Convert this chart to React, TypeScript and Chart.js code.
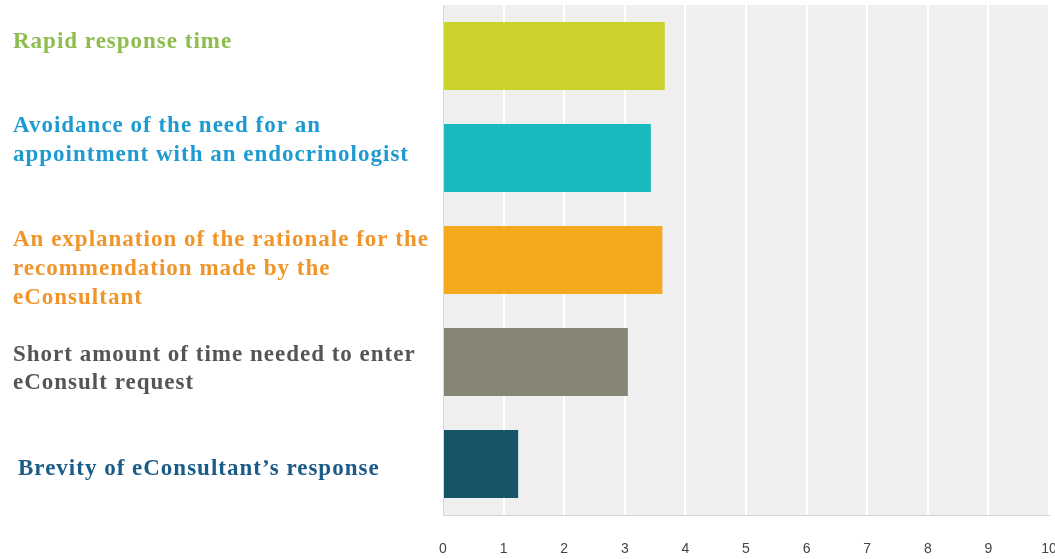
import React, { useEffect, useRef } from "react";
import { Chart, registerables } from "chart.js";

Chart.register(...registerables);

const categories: string[][] = [
  ["Rapid response time"],
  ["Avoidance of the need for an", "appointment with an endocrinologist"],
  ["An explanation of the rationale for the", "recommendation made by the", "eConsultant"],
  ["Short amount of time needed to enter", "eConsult request"],
  ["Brevity of eConsultant\u2019s response"],
];
const values: number[] = [3.66, 3.43, 3.62, 3.05, 1.24];
const barColors: string[] = ["#cbd22e", "#1ab9bd", "#f4aa1e", "#878575", "#165466"];
const labelColors: string[] = ["#8dbd4e", "#1d9bd0", "#f0952a", "#555555", "#1b5b87"];
const xTicks: number[] = [0, 1, 2, 3, 4, 5, 6, 7, 8, 9, 10];

// style: vertical offset of each label block relative to bar centre, and left x
const labelOffsets = [-13.5, -17.5, 9, 7, 5.5];
const labelX = [13, 13, 13, 13, 18];

const bgPlugin = {
  id: "bg",
  beforeDraw(chart: any) {
    const { ctx, chartArea } = chart;
    ctx.save();
    ctx.fillStyle = "#efefef";
    ctx.fillRect(chartArea.left, chartArea.top, chartArea.right - chartArea.left, chartArea.bottom - chartArea.top);
    ctx.restore();
  },
};

const labelPlugin = {
  id: "leftLabels",
  afterDraw(chart: any) {
    const { ctx } = chart;
    const y = chart.scales.y;
    ctx.save();
    ctx.font = "bold 23px 'Liberation Serif', serif";
    try {
      (ctx as any).letterSpacing = "1px";
    } catch (e) {}
    ctx.textAlign = "left";
    ctx.textBaseline = "middle";
    const lh = 28.8;
    categories.forEach((lines, i) => {
      const c = y.getPixelForValue(i) + labelOffsets[i];
      const start = c - ((lines.length - 1) * lh) / 2;
      ctx.fillStyle = labelColors[i];
      lines.forEach((ln, j) => {
        ctx.fillText(ln, labelX[i], start + j * lh);
      });
    });
    ctx.restore();
  },
};

export default function App() {
  const ref = useRef<HTMLCanvasElement>(null);
  useEffect(() => {
    if (!ref.current) return;
    const chart = new Chart(ref.current, {
      type: "bar",
      data: {
        labels: categories.map((l) => l.join(" ")),
        datasets: [
          {
            data: values,
            backgroundColor: barColors,
            barPercentage: 0.667,
            categoryPercentage: 1,
          },
        ],
      },
      options: {
        indexAxis: "y",
        animation: false,
        responsive: false,
        maintainAspectRatio: false,
        layout: { padding: { left: 443, right: 6, top: 5, bottom: 0 } },
        plugins: { legend: { display: false }, tooltip: { enabled: false } },
        scales: {
          x: {
            min: 0,
            max: 10,
            afterBuildTicks: (s: any) => {
              s.ticks = xTicks.map((v) => ({ value: v }));
            },
            afterFit: (s: any) => {
              s.height = 44;
              s.paddingLeft = 0;
              s.paddingRight = 0;
            },
            ticks: {
              padding: 26,
              color: "#444444",
              font: { family: "'Liberation Sans Narrow', 'Liberation Sans', Arial, sans-serif", size: 14 },
              maxRotation: 0,
            },
            grid: { color: "#ffffff", lineWidth: 2, drawTicks: false },
            border: { display: true, color: "#d6d6d6", width: 1 },
          },
          y: {
            afterFit: (s: any) => {
              s.paddingTop = 0;
              s.paddingBottom = 0;
            },
            ticks: { display: false },
            grid: { display: false, drawTicks: false },
            border: { display: true, color: "#d8d8d8", width: 1 },
          },
        },
      },
      plugins: [bgPlugin, labelPlugin],
    });
    return () => chart.destroy();
  }, []);
  return (
    <div style={{ position: "fixed", left: 0, top: 0, width: 1055, height: 559, background: "#ffffff" }}>
      <canvas ref={ref} width={1055} height={559} style={{ width: 1055, height: 559 }} />
    </div>
  );
}
